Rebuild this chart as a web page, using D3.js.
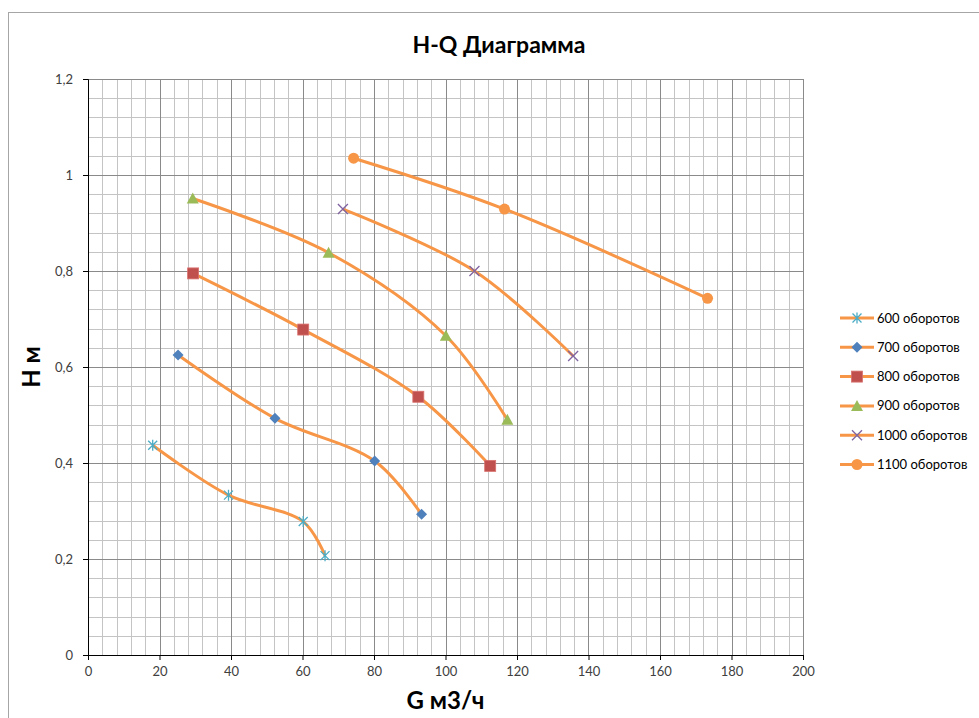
<!DOCTYPE html>
<html>
<head>
<meta charset="utf-8">
<script src="https://cdn.jsdelivr.net/npm/d3@7"></script>
<style>
  body { margin: 0; background: #fff; }
  text { font-family: Lato, "Open Sans", sans-serif; }
</style>
</head>
<body>
<script>
// flow G (m3/h) and head H (m) per speed
var seriesNames = ['600 оборотов', '700 оборотов', '800 оборотов', '900 оборотов', '1000 оборотов', '1100 оборотов'];
var g600 = [18.1, 39.3, 60.2, 66.3],   h600 = [0.437, 0.333, 0.278, 0.207];
var g700 = [25.2, 52.3, 80.2, 93.3],   h700 = [0.625, 0.493, 0.404, 0.293];
var g800 = [29.4, 60.2, 92.4, 112.5],  h800 = [0.795, 0.678, 0.538, 0.394];
var g900 = [29.3, 67.3, 100.1, 117.3], h900 = [0.951, 0.838, 0.665, 0.49];
var g1000 = [71.3, 108.1, 135.7],      h1000 = [0.929, 0.8, 0.623];
var g1100 = [74.3, 116.5, 173.3],      h1100 = [1.035, 0.929, 0.743];
var xTicks = [0, 20, 40, 60, 80, 100, 120, 140, 160, 180, 200];
var yTicks = [0, 0.2, 0.4, 0.6, 0.8, 1, 1.2];

var gs = [g600, g700, g800, g900, g1000, g1100];
var hs = [h600, h700, h800, h900, h1000, h1100];
var markerTypes = ['star', 'diamond', 'square', 'triangle', 'x', 'circle'];
var markerColors = ['#4BACC6', '#4F81BD', '#C0504D', '#9BBB59', '#8064A2', '#F79646'];
var lineColor = '#F79646';

var W = 979, H = 718;
var margin = {left: 88, top: 79, right: 176, bottom: 63};
var width = W - margin.left - margin.right,
    height = H - margin.top - margin.bottom;

var svg = d3.select('body').append('svg')
    .attr('width', W)
    .attr('height', H);

// chart frame
svg.append('rect')
    .attr('x', 8.5).attr('y', 12.5)
    .attr('width', 990).attr('height', 720)
    .attr('fill', 'none')
    .attr('stroke', '#a6a6a6');

var x = d3.scaleLinear().domain([0, 200]).range([0, width]);
var y = d3.scaleLinear().domain([0, 1.2]).range([height, 0]);

var g = svg.append('g')
    .attr('transform', 'translate(' + margin.left + ',' + margin.top + ')');

// minor grid
var minorX = d3.range(0, 201, 4), minorY = d3.range(0, 1.2001, 0.04);
g.append('g').selectAll('line').data(minorX).enter().append('line')
    .attr('x1', function(d) { return Math.round(x(d)) + 0.5; })
    .attr('x2', function(d) { return Math.round(x(d)) + 0.5; })
    .attr('y1', 0).attr('y2', height)
    .attr('stroke', '#c4c4c4');
g.append('g').selectAll('line').data(minorY).enter().append('line')
    .attr('y1', function(d) { return Math.round(y(d)) + 0.5; })
    .attr('y2', function(d) { return Math.round(y(d)) + 0.5; })
    .attr('x1', 0).attr('x2', width)
    .attr('stroke', '#c4c4c4');
// major grid
g.append('g').selectAll('line').data(xTicks).enter().append('line')
    .attr('x1', function(d) { return Math.round(x(d)) + 0.5; })
    .attr('x2', function(d) { return Math.round(x(d)) + 0.5; })
    .attr('y1', 0).attr('y2', height)
    .attr('stroke', '#8a8a8a');
g.append('g').selectAll('line').data(yTicks).enter().append('line')
    .attr('y1', function(d) { return Math.round(y(d)) + 0.5; })
    .attr('y2', function(d) { return Math.round(y(d)) + 0.5; })
    .attr('x1', 0).attr('x2', width)
    .attr('stroke', '#8a8a8a');

var fmt = function(d) { return String(+d.toFixed(1)).replace('.', ','); };

var xAxis = g.append('g')
    .attr('transform', 'translate(0,' + height + ')')
    .call(d3.axisBottom(x).tickValues(xTicks).tickSize(5).tickPadding(7));
var yAxis = g.append('g')
    .call(d3.axisLeft(y).tickValues(yTicks).tickFormat(fmt).tickSize(5).tickPadding(10));
[xAxis, yAxis].forEach(function(a) {
  a.select('.domain').attr('stroke', '#000');
  a.selectAll('.tick line').attr('stroke', '#000');
  a.selectAll('.tick text').attr('fill', '#404040').style('font-size', '13px')
    .style('font-family', 'Lato, sans-serif');
});

var line = d3.line()
    .x(function(d) { return x(d[0]); })
    .y(function(d) { return y(d[1]); })
    .curve(d3.curveCatmullRom.alpha(0.5));

function drawMarker(sel, type, color) {
  if (type === 'star') {
    sel.append('path').attr('d', 'M-4.5,-4.5L4.5,4.5M-4.5,4.5L4.5,-4.5M0,-5.5L0,5.5')
      .attr('stroke', color).attr('stroke-width', 1.3).attr('fill', 'none');
  } else if (type === 'x') {
    sel.append('path').attr('d', 'M-5,-5L5,5M-5,5L5,-5')
      .attr('stroke', color).attr('stroke-width', 1.3).attr('fill', 'none');
  } else if (type === 'diamond') {
    sel.append('path').attr('d', 'M0,-5.5L5.5,0L0,5.5L-5.5,0Z').attr('fill', color);
  } else if (type === 'square') {
    sel.append('rect').attr('x', -5.5).attr('y', -5.5).attr('width', 11).attr('height', 11)
      .attr('fill', color).attr('stroke', '#d9726f').attr('stroke-width', 0.8);
  } else if (type === 'triangle') {
    sel.append('path').attr('d', 'M0,-6L6,5L-6,5Z').attr('fill', color);
  } else {
    sel.append('circle').attr('r', 5.5).attr('fill', color);
  }
}

gs.forEach(function(gv, i) {
  var pts = gv.map(function(v, k) { return [v, hs[i][k]]; });
  g.append('path')
      .datum(pts)
      .attr('d', line)
      .attr('fill', 'none')
      .attr('stroke', lineColor)
      .attr('stroke-width', 3);
  pts.forEach(function(p) {
    var m = g.append('g').attr('transform', 'translate(' + x(p[0]) + ',' + y(p[1]) + ')');
    drawMarker(m, markerTypes[i], markerColors[i]);
  });
});

// titles
svg.append('text')
    .attr('x', 499).attr('y', 53)
    .attr('text-anchor', 'middle')
    .style('font-size', '23px').style('font-weight', 'bold')
    .text('H-Q Диаграмма');
svg.append('text')
    .attr('x', margin.left + width / 2).attr('y', 709)
    .attr('text-anchor', 'middle')
    .style('font-size', '24px').style('font-weight', 'bold')
    .text('G м3/ч');
svg.append('text')
    .attr('transform', 'translate(40,' + (margin.top + height / 2) + ') rotate(-90)')
    .attr('text-anchor', 'middle')
    .style('font-size', '24px').style('font-weight', 'bold')
    .text('Н м');

// legend
var legend = svg.append('g').attr('transform', 'translate(840,318)');
seriesNames.forEach(function(name, i) {
  var row = legend.append('g').attr('transform', 'translate(0,' + (i * 29.3) + ')');
  row.append('line').attr('x1', 0).attr('x2', 34).attr('y1', 0).attr('y2', 0)
    .attr('stroke', lineColor).attr('stroke-width', 3);
  var m = row.append('g').attr('transform', 'translate(17,0)');
  drawMarker(m, markerTypes[i], markerColors[i]);
  row.append('text').attr('x', 37).attr('y', 4.5)
    .style('font-size', '13px').attr('fill', '#000')
    .text(name);
});
</script>
</body>
</html>
